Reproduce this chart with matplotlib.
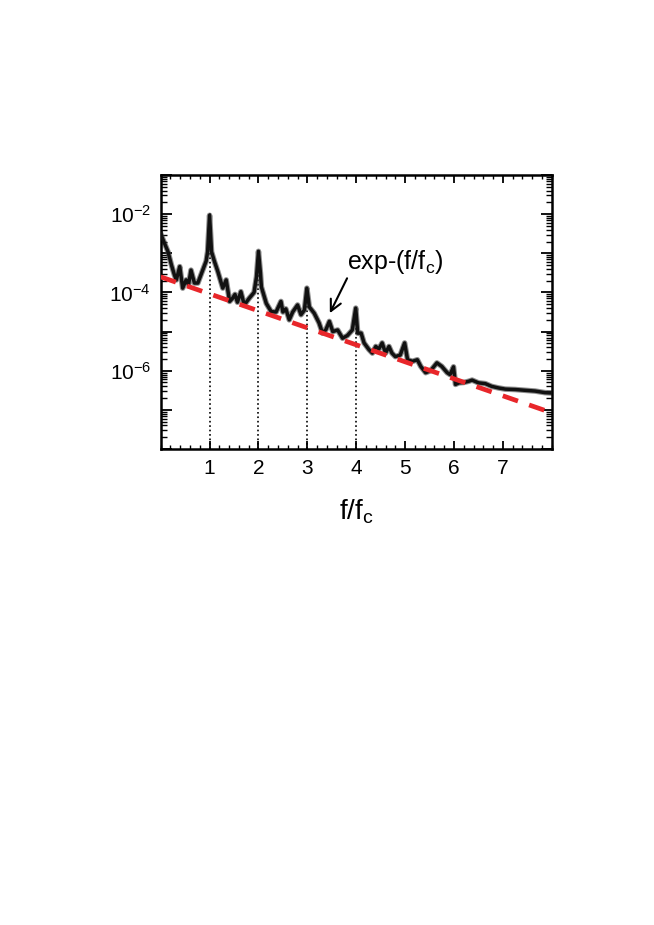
import matplotlib
matplotlib.use("Agg")
import matplotlib.pyplot as plt
from matplotlib.ticker import FixedLocator, MultipleLocator, NullFormatter, LogLocator
import numpy as np

plt.rcParams['font.family'] = ['Liberation Sans', 'DejaVu Sans']
plt.rcParams['mathtext.default'] = 'regular'

# spectrum (f/fc, log10 of power)
f_spec = [0.00, 0.08, 0.15, 0.22, 0.28, 0.32, 0.39, 0.45, 0.52, 0.57, 0.62, 0.69,
          0.76, 0.86, 0.93, 0.96, 1.00, 1.04, 1.10, 1.17, 1.27, 1.34, 1.41, 1.47,
          1.52, 1.57, 1.64, 1.71, 1.81, 1.91, 1.96, 2.00, 2.04, 2.06, 2.16, 2.26,
          2.36, 2.46, 2.50, 2.56, 2.63, 2.70, 2.80, 2.87, 2.94, 2.99, 3.04, 3.14,
          3.24, 3.31, 3.38, 3.45, 3.52, 3.62, 3.72, 3.82, 3.92, 3.99, 4.03, 4.10,
          4.16, 4.26, 4.33, 4.40, 4.46, 4.53, 4.60, 4.67, 4.73, 4.80, 4.90, 4.99,
          5.05, 5.15, 5.25, 5.32, 5.42, 5.52, 5.65, 5.75, 5.86, 5.92, 5.99, 6.03,
          6.10, 6.20, 6.30, 6.37, 6.50, 6.64, 6.77, 6.91, 7.05, 7.25, 7.45, 7.66,
          7.86, 8.00]
log_spec = [-2.50, -2.75, -2.96, -3.30, -3.55, -3.68, -3.34, -3.89, -3.68, -3.80, -3.43, -3.76,
            -3.76, -3.43, -3.20, -2.96, -2.03, -2.96, -3.21, -3.47, -3.89, -3.68, -4.23, -4.15,
            -4.05, -4.25, -3.98, -4.32, -4.15, -4.00, -3.60, -2.95, -3.50, -3.86, -4.28, -4.49,
            -4.50, -4.23, -4.50, -4.42, -4.70, -4.50, -4.32, -4.57, -4.45, -3.89, -4.37, -4.53,
            -4.78, -5.04, -4.95, -4.74, -5.00, -4.96, -5.17, -5.10, -4.96, -4.40, -5.04, -5.04,
            -5.29, -5.46, -5.55, -5.38, -5.45, -5.29, -5.55, -5.38, -5.55, -5.64, -5.60, -5.29,
            -5.72, -5.76, -5.72, -5.89, -6.05, -6.00, -5.80, -5.89, -6.05, -6.10, -5.90, -6.35,
            -6.31, -6.30, -6.27, -6.24, -6.31, -6.33, -6.40, -6.44, -6.47, -6.48, -6.50, -6.52,
            -6.56, -6.57]

# exponential fit line end points
f_fit = [0.0, 8.0]
p_fit = [2.5e-4, 8.4e-8]

# harmonic markers
f_harm = [1, 2, 3, 4]
p_harm = [1.2e-2, 1.2e-3, 1.4e-4, 4.3e-5]

psd = 10 ** np.array(log_spec)

fig = plt.figure(figsize=(6.54, 9.25), dpi=100)
ax = fig.add_axes([0.2457, 0.5146, 0.598, 0.2962])

ax.vlines(f_harm, 1e-8, p_harm, colors='k', linestyles=':', lw=1.2, zorder=1)
ax.plot(f_spec, psd, color='#444444', lw=4.0, alpha=0.6, zorder=2)
ax.plot(f_spec, psd, color='#111111', lw=2.5, zorder=3)
ax.plot(f_fit, p_fit, color='#e8262a', lw=3.4, dashes=(3.4, 2.5), zorder=4)

ax.annotate('exp-(f/f$_c$)', xy=(3.46, 10 ** -4.53), xytext=(3.81, 10 ** -3.21),
            ha='left', va='center', fontsize=18,
            arrowprops=dict(arrowstyle='->', lw=1.5, color='k', mutation_scale=20,
                            relpos=(0.03, 0.1), shrinkA=0, shrinkB=0))

ax.set_yscale('log')
ax.set_xlim(0, 8)
ax.set_ylim(1e-8, 1e-1)

ax.yaxis.set_major_locator(FixedLocator([10.0 ** k for k in range(-8, 0)]))
ax.set_yticklabels(['10$^{%d}$' % k if k in (-2, -4, -6) else '' for k in range(-8, 0)])
ax.yaxis.set_minor_locator(LogLocator(base=10, subs=np.arange(2, 10), numticks=20))
ax.yaxis.set_minor_formatter(NullFormatter())

ax.set_xticks([1, 2, 3, 4, 5, 6, 7])
ax.xaxis.set_minor_locator(MultipleLocator(0.2))

ax.tick_params(which='both', direction='in', top=True, right=True, labelsize=15, pad=7)
ax.tick_params(which='major', axis='y', length=8, width=1.3)
ax.tick_params(which='minor', axis='y', length=4, width=1.0)
ax.tick_params(which='major', axis='x', length=6, width=1.3)
ax.tick_params(which='minor', axis='x', length=3, width=1.0)
for s in ax.spines.values():
    s.set_linewidth(1.8)

ax.set_xlabel('f/f$_c$', fontsize=20, labelpad=14)

fig.savefig('out.png', dpi=100)
